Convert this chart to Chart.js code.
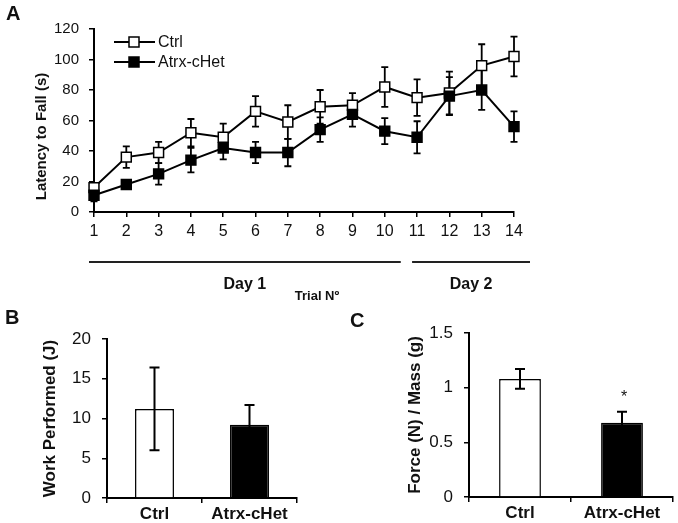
<!DOCTYPE html>
<html>
<head>
<meta charset="utf-8">
<script src="https://cdn.jsdelivr.net/npm/chart.js@4.4.1/dist/chart.umd.min.js"></script>
<style>
  html, body { margin: 0; padding: 0; background: #fff; }
  #wrap { position: relative; width: 678px; height: 523px; overflow: hidden; }
  #wrap canvas { position: absolute; left: 0; top: 0; }
  .panel { position: absolute; font: bold 20px 'Liberation Sans', Arial, sans-serif; color: #111; }
</style>
</head>
<body>
<div id="wrap">
  <canvas id="latency" width="678" height="523"></canvas>
  <canvas id="work" width="678" height="523"></canvas>
  <canvas id="force" width="678" height="523"></canvas>
  <div class="panel" style="left:6px;top:2px">A</div>
  <div class="panel" style="left:5px;top:306px">B</div>
  <div class="panel" style="left:350px;top:309px">C</div>
</div>
<script>
// panel A - rotarod, latency per trial
const trials = [1, 2, 3, 4, 5, 6, 7, 8, 9, 10, 11, 12, 13, 14];
const ctrlLatency    = [16, 36, 39, 52, 49, 66, 59, 69, 70, 82, 75, 78, 96, 102];
const ctrlLatencyErr = [3, 7, 7, 9, 9, 10, 11, 11, 8, 13, 12, 14, 14, 13];
const hetLatency     = [11, 18, 25, 34, 42, 39, 39, 54, 64, 53, 49, 76, 80, 56];
const hetLatencyErr  = [4, 3, 7, 8, 7.5, 7, 9, 8, 8, 8.5, 10.5, 12.5, 13, 10];
const days = ['Day 1', 'Day 2'];
const dayFirstTrial = [1, 11];
const dayLastTrial = [10, 14];

// panels B and C
const groups = ['Ctrl', 'Atrx-cHet'];
const workValues = [11.2, 9.2];
const workErr = [5.2, 2.5];
const forceValues = [1.08, 0.68];
const forceErr = [0.09, 0.1];
const forceSig = ['', '*'];

Chart.defaults.font.family = "'Liberation Sans', Arial, sans-serif";
Chart.defaults.color = '#111';

function drawErrors(chart, opts) {
  const ctx = chart.ctx;
  const yScale = chart.scales.y;
  ctx.save();
  ctx.strokeStyle = '#000';
  ctx.lineWidth = opts.lineWidth || 2;
  chart.data.datasets.forEach((ds, i) => {
    if (!ds.errors) return;
    const meta = chart.getDatasetMeta(i);
    meta.data.forEach((el, j) => {
      const raw = ds.data[j];
      const v = typeof raw === 'object' ? raw.y : raw;
      const e = ds.errors[j];
      const top = yScale.getPixelForValue(v + e);
      const bot = yScale.getPixelForValue(v - e);
      const c = opts.cap / 2;
      ctx.beginPath();
      ctx.moveTo(el.x, top); ctx.lineTo(el.x, bot);
      ctx.moveTo(el.x - c, top); ctx.lineTo(el.x + c, top);
      ctx.moveTo(el.x - c, bot); ctx.lineTo(el.x + c, bot);
      ctx.stroke();
      if (ds.marks && ds.marks[j]) {
        ctx.fillStyle = '#111';
        ctx.font = "16px 'Liberation Sans', Arial, sans-serif";
        ctx.textAlign = 'center';
        ctx.textBaseline = 'alphabetic';
        ctx.fillText(ds.marks[j], el.x + 2, top - 10);
      }
    });
  });
  ctx.restore();
}

const errorBars = {
  id: 'errorBars',
  beforeDatasetsDraw(chart, args, opts) {
    if (opts.drawTime === 'before') drawErrors(chart, opts);
  },
  afterDatasetsDraw(chart, args, opts) {
    if (opts.drawTime !== 'before') drawErrors(chart, opts);
  }
};

// legend, y title and day brackets for panel A
const latencyExtras = {
  id: 'latencyExtras',
  afterDraw(chart) {
    const ctx = chart.ctx;
    const x = chart.scales.x;
    const area = chart.chartArea;
    ctx.save();
    // legend
    chart.data.datasets.forEach((ds, i) => {
      const ly = area.top + 13 + i * 20;
      const lx = area.left + 20;
      ctx.strokeStyle = '#000';
      ctx.lineWidth = 2;
      ctx.beginPath(); ctx.moveTo(lx, ly); ctx.lineTo(lx + 41, ly); ctx.stroke();
      ctx.fillStyle = ds.pointBackgroundColor;
      ctx.lineWidth = 1.5;
      ctx.fillRect(lx + 15, ly - 5, 10, 10);
      ctx.strokeRect(lx + 15, ly - 5, 10, 10);
      ctx.fillStyle = '#111';
      ctx.font = "16px 'Liberation Sans', Arial, sans-serif";
      ctx.textAlign = 'left';
      ctx.textBaseline = 'middle';
      ctx.fillText(ds.label, lx + 44, ly + 1);
    });
    // y title
    ctx.save();
    ctx.translate(42, (area.top + area.bottom) / 2 + 16);
    ctx.rotate(-Math.PI / 2);
    ctx.font = "bold 15px 'Liberation Sans', Arial, sans-serif";
    ctx.textAlign = 'center';
    ctx.textBaseline = 'middle';
    ctx.fillText('Latency to Fall (s)', 0, 0);
    ctx.restore();
    // day brackets
    const by = area.bottom + 50;
    ctx.strokeStyle = '#222';
    ctx.lineWidth = 2;
    days.forEach((d, i) => {
      const x0 = x.getPixelForValue(dayFirstTrial[i]) - 5;
      const x1 = x.getPixelForValue(dayLastTrial[i]) + 16;
      ctx.beginPath(); ctx.moveTo(x0, by); ctx.lineTo(x1, by); ctx.stroke();
      ctx.font = "bold 16px 'Liberation Sans', Arial, sans-serif";
      ctx.textAlign = 'center';
      ctx.textBaseline = 'middle';
      ctx.fillStyle = '#111';
      ctx.fillText(d, (x0 + x1) / 2, by + 23);
    });
    ctx.font = "bold 13px 'Liberation Sans', Arial, sans-serif";
    ctx.fillText('Trial N\u00BA', (area.left + area.right) / 2 + 13, by + 34);
    ctx.restore();
  }
};

const axisLine = { display: true, color: '#000', width: 2 };
const tickGrid = { drawOnChartArea: false, drawTicks: true, tickLength: 5, color: '#000', lineWidth: 1.5 };

new Chart(document.getElementById('latency'), {
  type: 'line',
  data: {
    datasets: [
      {
        label: 'Ctrl',
        data: trials.map((t, i) => ({ x: t, y: ctrlLatency[i] })),
        errors: ctrlLatencyErr,
        borderColor: '#000', borderWidth: 2,
        pointStyle: 'rect', pointRadius: 7, pointBorderWidth: 1.5,
        pointBackgroundColor: '#fff', pointBorderColor: '#000',
        clip: false, order: 1
      },
      {
        label: 'Atrx-cHet',
        data: trials.map((t, i) => ({ x: t, y: hetLatency[i] })),
        errors: hetLatencyErr,
        borderColor: '#000', borderWidth: 2,
        pointStyle: 'rect', pointRadius: 7, pointBorderWidth: 1.5,
        pointBackgroundColor: '#000', pointBorderColor: '#000',
        clip: false, order: 0
      }
    ]
  },
  options: {
    responsive: false, animation: false, events: [],
    layout: { padding: { left: 29, top: 29, right: 164, bottom: 281 } },
    plugins: {
      legend: { display: false }, tooltip: { enabled: false },
      errorBars: { drawTime: 'before', cap: 7, lineWidth: 1.8 }
    },
    scales: {
      x: {
        type: 'linear', min: 1, max: 14,
        ticks: { stepSize: 1, font: { size: 16 }, padding: 5, maxRotation: 0, autoSkip: false },
        grid: tickGrid, border: axisLine,
        afterFit: s => { s.height = 30; }
      },
      y: {
        min: 0, max: 120,
        ticks: { stepSize: 20, font: { size: 15 }, padding: 10 },
        grid: tickGrid, border: axisLine,
        afterFit: s => { s.width = 65; }
      }
    }
  },
  plugins: [errorBars, latencyExtras]
});

function barPanel(id, values, errs, marks, yMax, yStep, title, pad, axisWidth) {
  return new Chart(document.getElementById(id), {
    type: 'bar',
    data: {
      labels: groups,
      datasets: [{
        data: values, errors: errs, marks: marks,
        backgroundColor: ['#fff', '#000'], borderColor: '#000', borderWidth: 1.5,
        barPercentage: 0.41, categoryPercentage: 1
      }]
    },
    options: {
      responsive: false, animation: false, events: [],
      layout: { padding: pad },
      plugins: {
        legend: { display: false }, tooltip: { enabled: false },
        errorBars: { drawTime: 'after', cap: 10, lineWidth: 2 }
      },
      scales: {
        x: {
          ticks: { font: { size: 17, weight: 'bold' }, padding: 1 },
          grid: Object.assign({ offset: true }, tickGrid), border: axisLine,
          afterFit: s => { s.height = 25; }
        },
        y: {
          min: 0, max: yMax,
          ticks: { stepSize: yStep, font: { size: 17 }, padding: 11, callback: v => String(v) },
          title: { display: true, text: title, font: { size: 17, weight: 'bold' }, padding: { top: 4, bottom: 0 } },
          grid: tickGrid, border: axisLine,
          afterFit: s => { s.width = axisWidth; }
        }
      }
    },
    plugins: [errorBars]
  });
}

barPanel('work', workValues, workErr, null, 20, 5, 'Work Performed (J)',
  { left: 36, top: 339, right: 381, bottom: 0 }, 71);
barPanel('force', forceValues, forceErr, forceSig, 1.5, 0.5, 'Force (N) / Mass (g)',
  { left: 401, top: 333, right: 5, bottom: 1 }, 68);
</script>
</body>
</html>
